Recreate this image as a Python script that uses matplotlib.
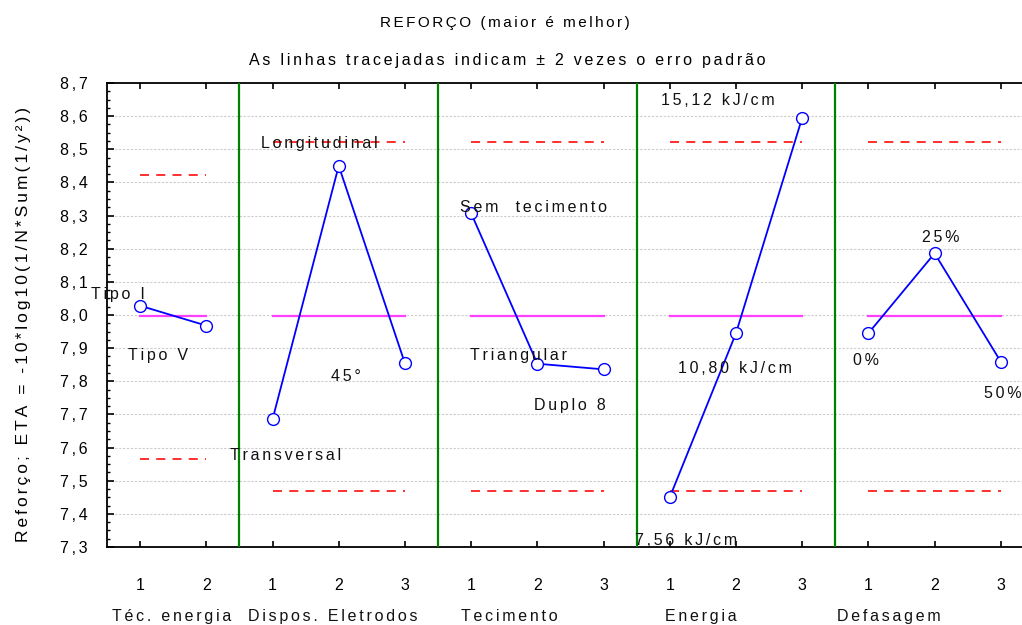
import matplotlib
matplotlib.use("Agg")
import matplotlib.pyplot as plt
import numpy as np

plt.rcParams['font.family'] = ['Liberation Sans', 'DejaVu Sans']

# data
factors = ["Téc. energia", "Dispos. Eletrodos", "Tecimento", "Energia", "Defasagem"]
tec_energia = [8.028, 7.968]
dispos_eletrodos = [7.685, 8.450, 7.854]
tecimento = [8.307, 7.853, 7.836]
energia = [7.450, 7.945, 8.595]
defasagem = [7.945, 8.186, 7.859]
upper_2se = [8.423, 8.521, 8.521, 8.521, 8.521]
lower_2se = [7.567, 7.470, 7.470, 7.470, 7.470]
grand_mean = 7.996

level_names = [
    ["Tipo I", "Tipo V"],
    ["Transversal", "Longitudinal", "45°"],
    ["Sem  tecimento", "Triangular", "Duplo 8"],
    ["7,56 kJ/cm", "10,80 kJ/cm", "15,12 kJ/cm"],
    ["0%", "25%", "50%"],
]
# where the level names sit (x, y in data units)
level_pos = [
    [(0.17, 8.063), (0.77, 7.878)],
    [(2.70, 7.575), (3.20, 8.516), (3.61, 7.814)],
    [(6.44, 8.325), (6.21, 7.877), (6.99, 7.726)],
    [(8.74, 7.319), (9.49, 7.839), (9.23, 8.647)],
    [(11.46, 7.862), (12.59, 8.233), (13.53, 7.762)],
]
factor_x = [0.98, 3.41, 6.07, 8.97, 11.81]

series = [tec_energia, dispos_eletrodos, tecimento, energia, defasagem]


def spaced(s, sp='\u200a\u200a'):
    # wide letter spacing like the original export
    return sp.join(s)


fig = plt.figure(figsize=(10.22, 6.25), dpi=100)
ax = fig.add_axes([107 / 1022, 78 / 625, 915 / 1022, 464 / 625])

ax.set_ylim(7.3, 8.7)
ax.set_xlim(0, 13.82)

# dotted horizontal grid
for v in np.arange(7.4, 8.65, 0.1):
    ax.axhline(v, color='#cccccc', lw=0.8, ls=(0, (2, 1.5)), zorder=0)

start = 0
xticks = []
xticklabels = []
for i, vals in enumerate(series):
    n = len(vals)
    xs = np.arange(n) + start + 0.5
    xticks += list(xs)
    xticklabels += [str(k + 1) for k in range(n)]
    ax.plot([xs[0], xs[-1]], [upper_2se[i]] * 2, color='#ff2020', lw=1.3,
            ls=(0, (5, 4)), zorder=2)
    ax.plot([xs[0], xs[-1]], [lower_2se[i]] * 2, color='#ff2020', lw=1.3,
            ls=(0, (5, 4)), zorder=2)
    ax.plot([xs[0], xs[-1]], [grand_mean] * 2, color='#ff40ff', lw=1.6, zorder=2)
    ax.plot(xs, vals, color='#0000ff', lw=1.3, marker='o', ms=8.5,
            mfc='white', mec='#0000ff', mew=1.0, zorder=4)
    for name, (tx, ty) in zip(level_names[i], level_pos[i]):
        ax.text(tx, ty, spaced(name), ha='center', va='center', fontsize=11.5,
                color='#111111', zorder=5)
    ax.text(factor_x[i], 7.09, spaced(factors[i]), ha='center', va='center',
            fontsize=11.5, color='#111111', clip_on=False)
    start += n
    if i < len(series) - 1:
        ax.axvline(start, color='#008000', lw=1.6, zorder=3)

ax.set_xticks(xticks)
ax.set_xticklabels(xticklabels, fontsize=11.5)
yt = np.arange(7.3, 8.71, 0.1)
ax.set_yticks(yt)
ax.set_yticklabels([spaced(f"{v:.1f}".replace('.', ',')) for v in yt], fontsize=11.5)
ax.set_yticks(np.arange(7.3, 8.7, 0.025), minor=True)
ax.tick_params(axis='y', which='major', direction='in', length=5, width=1.2, pad=14)
ax.tick_params(axis='y', which='minor', direction='in', length=2.5, width=1)
ax.tick_params(axis='x', direction='in', length=4, width=1.2, top=True, pad=22)
ax.spines['right'].set_visible(False)
for s in ['left', 'top', 'bottom']:
    ax.spines[s].set_linewidth(1.3)

ax.set_ylabel(spaced("Reforço; ETA = -10*log10(1/N*Sum(1/y²))"), fontsize=12.5)
ax.yaxis.set_label_coords(-0.083, 0.48)

fig.text(0.494, 1 - 23 / 625, spaced("REFORÇO (maior é melhor)"), ha='center',
         va='center', fontsize=11)
fig.text(0.496, 1 - 60 / 625, spaced("As linhas tracejadas indicam ± 2 vezes o erro padrão"),
         ha='center', va='center', fontsize=11.5)

fig.savefig("out.png", dpi=100)
